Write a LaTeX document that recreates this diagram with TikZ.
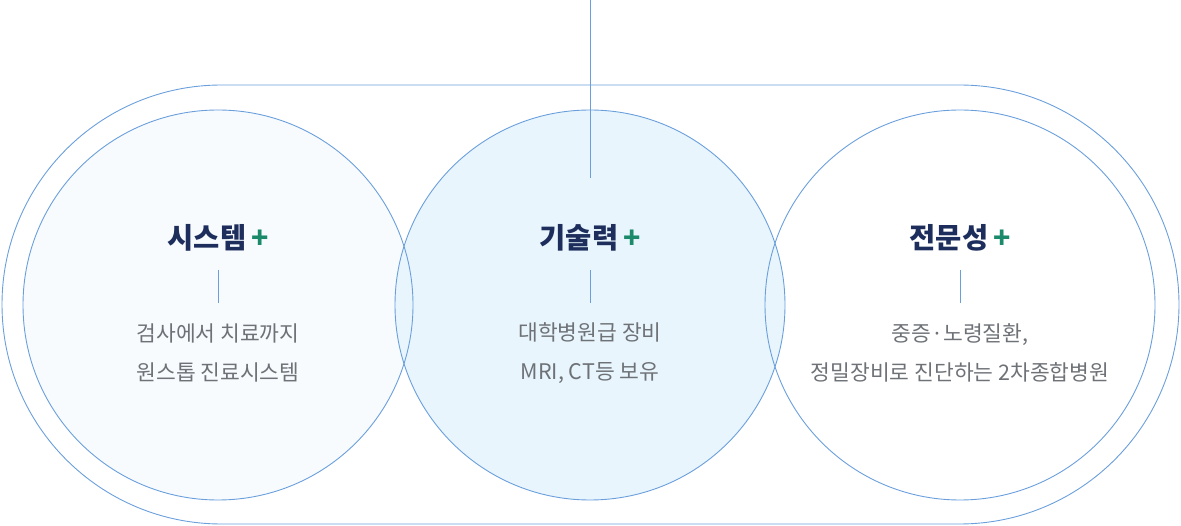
\documentclass[tikz,border=0pt]{standalone}
\usepackage{fontspec}
\setmainfont{Noto Sans CJK KR}
\begin{document}
\begin{tikzpicture}[x=1pt,y=-1pt,
  circ/.style={draw=edge,line width=0.9pt},
  ttl/.style={font=\fontsize{28.5}{30}\selectfont\bfseries,text=navy,inner sep=0},
  body/.style={font=\fontsize{21.5}{39}\selectfont,text=txt,align=center,inner sep=0}]
\definecolor{edge}{HTML}{6A9FDC}
\definecolor{navy}{HTML}{1E2E5C}
\definecolor{grn}{HTML}{1A8A6A}
\definecolor{txt}{HTML}{6E7277}
\definecolor{fa}{HTML}{F7FBFE}
\definecolor{fb}{HTML}{E8F5FD}
\useasboundingbox (0,0) rectangle (1181,526);
\draw[circ,rounded corners=219.5pt] (2,85) rectangle (1179,524);
\fill[fa] (218,305) circle (195);
\fill[fb] (590,305) circle (195);
\draw[circ] (218,305) circle (195);
\draw[circ] (590,305) circle (195);
\draw[circ] (960,305) circle (195);
\coordinate (top) at (590,0);
\coordinate (tb) at (590,178);
\draw[edge,line width=0.9pt] (top) -- (tb);
\foreach \x [count=\i] in {218,590,960}{
  \coordinate (la\i) at (\x,270);
  \coordinate (lb\i) at (\x,303);
  \draw[edge,line width=0.9pt] (la\i) -- (lb\i);
}
\node[ttl] (t1) at (218,238) {시스템\,\textcolor{grn}{+}};
\node[ttl] (t2) at (590,238) {기술력\,\textcolor{grn}{+}};
\node[ttl] (t3) at (960,238) {전문성\,\textcolor{grn}{+}};
\node[body] (b1) at (218,353) {검사에서 치료까지\\원스톱 진료시스템};
\node[body] (b2) at (590,353) {대학병원급 장비\\MRI, CT등 보유};
\node[body] (b3) at (960,353) {중증·노령질환,\\정밀장비로 진단하는 2차종합병원};
\end{tikzpicture}
\end{document}
